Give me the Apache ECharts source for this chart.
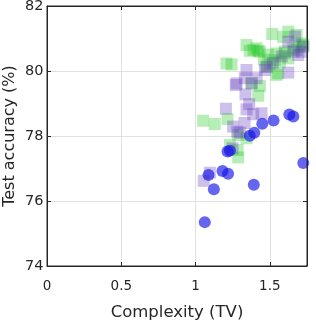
<!DOCTYPE html>
<html><head><meta charset="utf-8">
<script src="https://cdn.jsdelivr.net/npm/echarts@6/dist/echarts.min.js"></script>
<style>html,body{margin:0;padding:0;background:#fff}#c{width:316px;height:324px}</style>
</head><body><div id="c"></div>
<script>
const xTicks = [0, 0.5, 1, 1.5];
const yTicks = [74, 76, 78, 80, 82];
const greenX = [1.516,1.624,1.68,1.59,1.714,1.343,1.411,1.365,1.433,1.39,1.242,1.208,1.422,1.489,1.545,1.601,1.658,1.68,1.725,1.534,1.624,1.568,1.478,1.545,1.556,1.377,1.433,1.422,1.051,1.129,1.215,1.231,1.287,1.343,1.287,1.283,1.50,1.60,1.70,1.46];
const greenY = [81.14,81.21,81.11,81.05,80.85,80.8,80.7,80.62,80.59,80.65,80.2,80.23,80.62,80.5,80.54,80.54,80.7,80.65,80.8,80.34,80.39,80.29,80.13,79.88,79.93,79.62,79.54,79.24,78.47,78.37,78.52,77.72,78.03,77.93,77.34,77.57,80.2,80.6,80.75,80.35];
const purpleX = [1.343,1.332,1.271,1.411,1.336,1.361,1.204,1.343,1.388,1.444,1.253,1.280,1.624,1.624,1.691,1.725,1.669,1.478,1.714,1.096,1.055,1.249,1.276,1.467,1.377,1.66,1.58,1.52,1.30,1.33];
const purpleY = [80.03,79.78,79.57,79.78,79.28,78.98,78.84,78.82,78.67,78.70,78.29,78.13,79.95,80.9,80.49,80.75,81.06,80.13,80.59,76.87,76.62,77.62,79.62,80.03,79.62,80.6,80.45,80.25,78.1,78.4];
const blueX = [1.062,1.123,1.087,1.181,1.219,1.392,1.725,1.215,1.231,1.365,1.395,1.449,1.525,1.631,1.658];
const blueY = [75.35,76.36,76.8,76.92,76.84,76.5,77.17,77.52,77.55,78.01,78.1,78.38,78.48,78.66,78.6];
const xMax = 1.75, yMax = 82;

const pairs = (xs, ys) => xs.map((x, i) => [x, ys[i]]);
const font = 'DejaVu Sans';
const ink = '#262626';
const chart = echarts.init(document.getElementById('c'));
const mkTick = () => ({show: true, inside: true, length: 4, lineStyle: {color: ink}});
const mkLine = () => ({show: true, onZero: false, lineStyle: {color: ink, width: 1}});
chart.setOption({
  animation: false,
  grid: {left: 47, right: 9, top: 6, bottom: 58, containLabel: false, outerBoundsMode: 'none',
         show: true, borderColor: ink, borderWidth: 1, backgroundColor: 'rgba(0,0,0,0)'},
  xAxis: [{
    type: 'value', gridIndex: 0, min: 0, max: xMax, interval: 0.5,
    name: 'Complexity (TV)', nameLocation: 'middle', nameGap: 38, nameMoveOverlap: false,
    nameTextStyle: {fontFamily: font, fontSize: 16.5, color: ink},
    axisLine: mkLine(), axisTick: mkTick(),
    axisLabel: {fontFamily: font, fontSize: 13.5, color: ink, margin: 13, showMaxLabel: false,
      formatter: v => xTicks.includes(v) ? String(v) : ''},
    splitLine: {show: true, lineStyle: {color: '#e0e0e0', width: 1}}
  }, {
    type: 'value', gridIndex: 0, show: true, position: 'top', min: 0, max: xMax, interval: 0.5,
    axisLine: mkLine(), axisTick: mkTick(),
    axisLabel: {show: false}, splitLine: {show: false}
  }],
  yAxis: [{
    type: 'value', gridIndex: 0, min: 74, max: yMax, interval: 2,
    name: 'Test accuracy (%)', nameLocation: 'middle', nameGap: 29, nameMoveOverlap: false,
    nameTextStyle: {fontFamily: font, fontSize: 16, color: ink},
    axisLine: mkLine(), axisTick: mkTick(),
    axisLabel: {fontFamily: font, fontSize: 14.5, color: ink, margin: 3.5,
      formatter: v => yTicks.includes(v) ? String(v) : ''},
    splitLine: {show: true, lineStyle: {color: '#e0e0e0', width: 1}}
  }, {
    type: 'value', gridIndex: 0, show: true, position: 'right', min: 74, max: yMax, interval: 2,
    axisLine: mkLine(), axisTick: mkTick(),
    axisLabel: {show: false}, splitLine: {show: false}
  }],
  series: [
    {type: 'scatter', symbol: 'rect', symbolSize: 12, data: pairs(greenX, greenY),
     itemStyle: {color: 'rgba(30,200,30,0.4)'},
     markLine: {silent: true, symbol: ['none', 'none'], animation: false, precision: 4,
       label: {show: false}, lineStyle: {color: ink, width: 1, type: 'solid'},
       emphasis: {disabled: true},
       data: [{yAxis: yMax}, {xAxis: xMax}]}},
    {type: 'scatter', symbol: 'rect', symbolSize: 12, data: pairs(purpleX, purpleY),
     itemStyle: {color: 'rgba(100,60,190,0.4)'}},
    {type: 'scatter', symbol: 'circle', symbolSize: 12, data: pairs(blueX, blueY),
     itemStyle: {color: 'rgba(20,20,230,0.82)'}},
    {type: 'scatter', xAxisIndex: 1, yAxisIndex: 1, data: [], silent: true}
  ]
});
</script></body></html>
